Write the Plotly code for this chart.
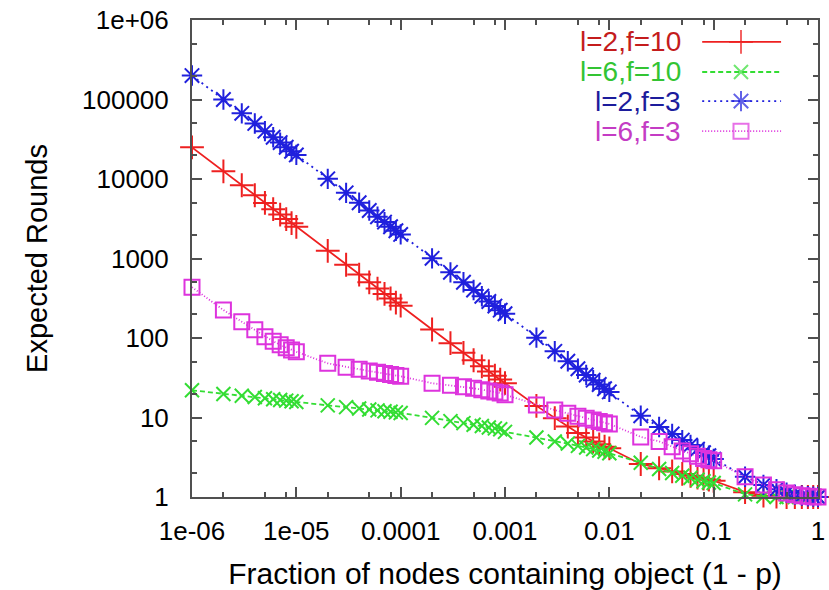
import plotly.graph_objects as go

# ---------------- data ----------------
fraction = [
    1e-6, 2e-6, 3e-6, 4e-6, 5e-6, 6e-6, 7e-6, 8e-6, 9e-6,
    1e-5, 2e-5, 3e-5, 4e-5, 5e-5, 6e-5, 7e-5, 8e-5, 9e-5,
    1e-4, 2e-4, 3e-4, 4e-4, 5e-4, 6e-4, 7e-4, 8e-4, 9e-4,
    1e-3, 2e-3, 3e-3, 4e-3, 5e-3, 6e-3, 7e-3, 8e-3, 9e-3,
    1e-2, 2e-2, 3e-2, 4e-2, 5e-2, 6e-2, 7e-2, 8e-2, 9e-2,
    0.1, 0.2, 0.3, 0.4, 0.5, 0.6, 0.7, 0.8, 0.9,
    1.0,
]

rounds_l2_f10 = [
    25000, 12500, 8350, 6250, 5000, 4170, 3570, 3130, 2780,
    2500, 1250, 835, 627, 502, 418, 358, 314, 279,
    255, 128, 86, 65, 52.5, 44, 38, 33.5, 30,
    27, 14.0, 9.8, 7.7, 6.4, 5.6, 5.0, 4.6, 4.3,
    4.1, 2.6, 2.3, 2.1, 1.95, 1.85, 1.75, 1.7, 1.65,
    1.6, 1.15, 1.04, 1.01, 1.0, 1.0, 1.0, 1.0, 1.0,
    1.0,
]

rounds_l6_f10 = [
    22, 19.8, 18.8, 18.1, 17.5, 17.0, 16.6, 16.3, 16.0,
    15.7, 14.2, 13.5, 13.0, 12.6, 12.3, 12.0, 11.8, 11.6,
    11.4, 9.9, 9.0, 8.5, 8.1, 7.8, 7.5, 7.3, 7.1,
    6.6, 5.6, 5.0, 4.7, 4.4, 4.2, 4.0, 3.85, 3.7,
    3.55, 2.7, 2.25, 2.0, 1.85, 1.75, 1.65, 1.58, 1.52,
    1.5, 1.08, 1.02, 1.0, 1.0, 1.0, 1.0, 1.0, 1.0,
    1.0,
]

rounds_l2_f3 = [
    200000, 100000, 67000, 50000, 40000, 33500, 28700, 25100, 22300,
    20100, 10050, 6700, 5030, 4020, 3350, 2870, 2510, 2230,
    2010, 1005, 670, 503, 402, 335, 288, 252, 224,
    202, 101, 68, 51, 41, 34.3, 29.5, 26, 23,
    21, 10.5, 7.6, 6.2, 5.2, 4.5, 4.0, 3.6, 3.3,
    3.0, 1.8, 1.42, 1.25, 1.13, 1.07, 1.04, 1.02, 1.01,
    1.0,
]

rounds_l6_f3 = [
    435, 225, 160, 127, 104, 91, 82, 75.5, 70.5,
    67, 48, 43, 40.5, 38.5, 37, 35.8, 34.8, 33.8,
    33, 27, 25.5, 24.3, 23.3, 22.4, 21.6, 20.9, 20.3,
    19.3, 14.4, 12.4, 11.3, 10.4, 9.8, 9.3, 8.9, 8.6,
    8.3, 5.7, 5.0, 4.3, 3.8, 3.5, 3.25, 3.05, 2.95,
    2.85, 1.8, 1.42, 1.23, 1.12, 1.07, 1.04, 1.02, 1.01,
    1.0,
]

series_names = ["l=2,f=10", "l=6,f=10", "l=2,f=3", "l=6,f=3"]

x_tick_vals = [1e-6, 1e-5, 1e-4, 1e-3, 1e-2, 1e-1, 1]
x_tick_text = ["1e-06", "1e-05", "0.0001", "0.001", "0.01", "0.1", "1"]
y_tick_vals = [1, 10, 100, 1000, 10000, 100000, 1000000]
y_tick_text = ["1", "10", "100", "1000", "10000", "100000", "1e+06"]
x_minor_vals = [m * d for d in [1e-6, 1e-5, 1e-4, 1e-3, 1e-2, 1e-1] for m in (2, 5, 8)]
y_minor_vals = [m * d for d in [1, 10, 100, 1000, 10000, 100000] for m in (2, 5)]

# ---------------- styles ----------------
FONT = "Liberation Sans, Arial, sans-serif"
AXIS_COLOR = "#505050"
styles = [
    dict(color="#ee2020", text="#c41c1c", dash="solid", symbol="cross-thin-open", size=17),
    dict(color="#33dd33", text="#33c433", dash="5px,3px", symbol="x-thin-open", size=14),
    dict(color="#2020dd", text="#1c1c9c", dash="2px,4px", symbol="asterisk-open", size=17),
    dict(color="#dd33dd", text="#c43cc4", dash="1px,2px", symbol="square-open", size=15),
]
all_series = [rounds_l2_f10, rounds_l6_f10, rounds_l2_f3, rounds_l6_f3]

fig = go.Figure()
for name, ys, st in zip(series_names, all_series, styles):
    fig.add_trace(go.Scatter(
        x=fraction, y=ys, name=name, mode="lines+markers",
        line=dict(color=st["color"], width=1.8, dash=st["dash"]),
        marker=dict(symbol=st["symbol"], size=st["size"], color=st["color"],
                    line=dict(color=st["color"], width=2)),
        cliponaxis=False, showlegend=False,
    ))

# ---- gnuplot-style key (text right, sample line to the right) ----
key_rows = [0.954, 0.891, 0.830, 0.767]
key_line_x = [0.815, 0.877, 0.941]
key_text_x = 0.784
for name, st, ry in zip(series_names, styles, key_rows):
    fig.add_trace(go.Scatter(
        x=key_line_x, y=[ry, ry, ry], xaxis="x2", yaxis="y2",
        mode="lines+markers",
        line=dict(color=st["color"], width=1.8, dash=st["dash"]),
        marker=dict(symbol=st["symbol"], size=[0, st["size"], 0], color=st["color"],
                    line=dict(color=st["color"], width=2)),
        cliponaxis=False, showlegend=False, hoverinfo="skip",
    ))
    fig.add_annotation(
        x=key_text_x, y=ry, xref="paper", yref="paper", text=name,
        showarrow=False, xanchor="right", yanchor="middle",
        font=dict(family=FONT, size=28, color=st["text"]),
    )

axis_common = dict(
    type="log", showgrid=False, zeroline=False, automargin=False,
    showline=True, linecolor=AXIS_COLOR, linewidth=2, mirror="allticks",
    ticks="inside", ticklen=10, tickwidth=1.5, tickcolor=AXIS_COLOR,
    tickmode="array", tickfont=dict(family=FONT, size=26, color="#000000"),
)

fig.update_layout(
    template="none",
    width=829, height=590,
    margin=dict(l=192, r=11, t=20, b=93, autoexpand=False),
    paper_bgcolor="white", plot_bgcolor="white",
    font=dict(family=FONT, color="#000000"),
    xaxis=dict(
        axis_common, range=[-6, 0], tickvals=x_tick_vals, ticktext=x_tick_text,
        ticklabelstandoff=10,
        minor=dict(tickvals=x_minor_vals, ticks="inside", ticklen=5,
                   tickwidth=1.5, tickcolor=AXIS_COLOR),
        title=dict(text="Fraction of nodes containing object (1 - p)",
                   font=dict(family=FONT, size=30, color="#000000"), standoff=22),
    ),
    yaxis=dict(
        axis_common, range=[0, 6], tickvals=y_tick_vals, ticktext=y_tick_text,
        ticklabelstandoff=16,
        minor=dict(tickvals=y_minor_vals, ticks="inside", ticklen=5,
                   tickwidth=1.5, tickcolor=AXIS_COLOR),
        title=dict(text="Expected Rounds",
                   font=dict(family=FONT, size=29, color="#000000"), standoff=26),
    ),
    xaxis2=dict(domain=[0, 1], range=[0, 1], overlaying="x", anchor="y2",
                visible=False, fixedrange=True),
    yaxis2=dict(domain=[0, 1], range=[0, 1], overlaying="y", anchor="x2",
                visible=False, fixedrange=True),
)

fig.write_html(
    "out.html",
    config={"displayModeBar": False},
    post_script="document.body.style.margin='0';document.body.style.overflow='hidden';",
)
